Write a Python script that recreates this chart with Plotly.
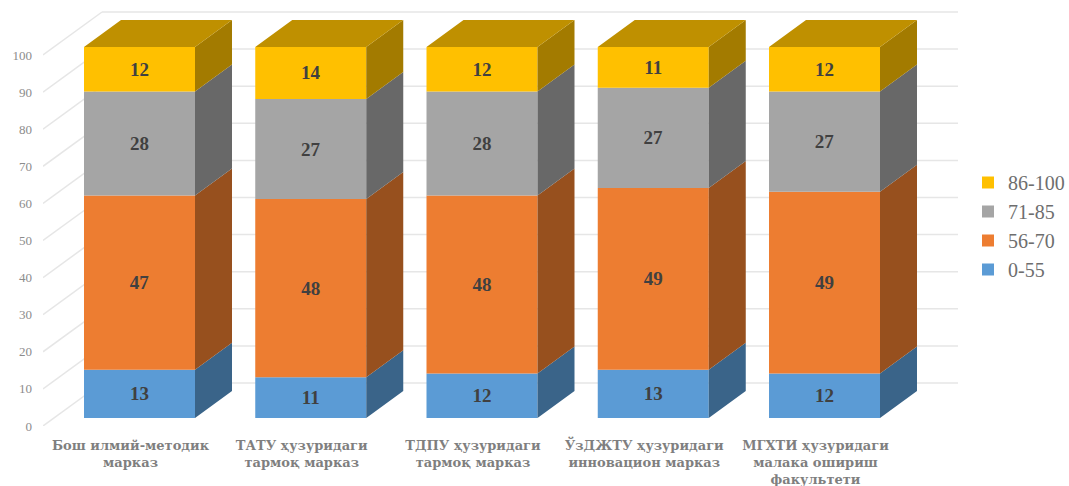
import plotly.graph_objects as go

categories = [
    "Бош илмий-методик<br>марказ",
    "ТАТУ ҳузуридаги<br>тармоқ марказ",
    "ТДПУ ҳузуридаги<br>тармоқ марказ",
    "ЎзДЖТУ ҳузуридаги<br>инновацион марказ",
    "МГХТИ ҳузуридаги<br>малака ошириш<br>факультети",
]
series_names = ["0-55", "56-70", "71-85", "86-100"]
v_0_55 = [13, 11, 12, 13, 12]
v_56_70 = [47, 48, 48, 49, 49]
v_71_85 = [28, 27, 28, 27, 27]
v_86_100 = [12, 14, 12, 11, 12]
y_ticks = [0, 10, 20, 30, 40, 50, 60, 70, 80, 90, 100]

series_values = [v_0_55, v_56_70, v_71_85, v_86_100]
front_colors = ["#5B9BD5", "#ED7D31", "#A5A5A5", "#FFC000"]
side_colors = ["#3A6489", "#97501E", "#686868", "#A37B00"]
top_color = "#BF9000"

W, H = 1069, 486
PX_L, PX_R, PX_T, PX_B = 43, 958, 10, 426
PITCH = 171.25
UNIT = 3.71
CAT0 = 130.5
x_range = [(PX_L - CAT0) / PITCH, (PX_R - CAT0) / PITCH]
y_range = [0, (PX_B - PX_T) / UNIT]

def dx(px):
    return px / PITCH

def dy(px):
    return px / UNIT

BAR_W = dx(111)
BAR_SX, BAR_SY = dx(9), dy(8)
DEPTH_X, DEPTH_Y = dx(37), dy(27)
WALL_X, WALL_Y = dx(59), dy(43)
GRID = "#E6E6E6"

fig = go.Figure()
xs = list(range(len(categories)))

shapes = []
for v in y_ticks:
    shapes.append(dict(type="line", layer="below", xref="x", yref="y",
                       x0=x_range[0] + WALL_X, x1=x_range[1],
                       y0=v + WALL_Y, y1=v + WALL_Y,
                       line=dict(color=GRID, width=1.5)))
    shapes.append(dict(type="line", layer="below", xref="x", yref="y",
                       x0=x_range[0], x1=x_range[0] + WALL_X,
                       y0=v, y1=v + WALL_Y,
                       line=dict(color=GRID, width=1.5)))

cum = [0] * len(categories)
for name, vals, fc, sc in zip(series_names, series_values, front_colors, side_colors):
    base = [c + BAR_SY for c in cum]
    fig.add_trace(go.Bar(
        x=xs, y=vals, base=base, width=BAR_W, name=name,
        offset=BAR_SX - BAR_W / 2,
        marker=dict(color=fc, line=dict(width=0)),
        text=[str(v) for v in vals], textposition="inside", textangle=0,
        insidetextanchor="middle", constraintext="none",
        textfont=dict(family="Liberation Serif", size=19, color="#404040", weight="bold"),
        hoverinfo="skip",
    ))
    px_, py_ = [], []
    for i, v in enumerate(vals):
        xr = i + BAR_SX + BAR_W / 2
        b, t = base[i], base[i] + v
        px_ += [xr, xr + DEPTH_X, xr + DEPTH_X, xr, xr, None]
        py_ += [b, b + DEPTH_Y, t + DEPTH_Y, t, b, None]
    fig.add_trace(go.Scatter(x=px_, y=py_, mode="lines", fill="toself", fillcolor=sc,
                             line=dict(width=0, color=sc), showlegend=False,
                             hoverinfo="skip"))
    cum = [c + v for c, v in zip(cum, vals)]

tx, ty = [], []
for i, c in enumerate(cum):
    xl = i + BAR_SX - BAR_W / 2
    xr = xl + BAR_W
    t = c + BAR_SY
    tx += [xl, xr, xr + DEPTH_X, xl + DEPTH_X, xl, None]
    ty += [t, t, t + DEPTH_Y, t + DEPTH_Y, t, None]
fig.add_trace(go.Scatter(x=tx, y=ty, mode="lines", fill="toself", fillcolor=top_color,
                         line=dict(width=0, color=top_color), showlegend=False,
                         hoverinfo="skip"))

LEG_L, LEG_T = 968, 163
fig.update_layout(
    width=W, height=H, autosize=False,
    margin=dict(l=PX_L, r=W - PX_R, t=PX_T, b=H - PX_B, autoexpand=False),
    paper_bgcolor="white", plot_bgcolor="white",
    barmode="overlay", shapes=shapes,
    font=dict(family="Liberation Serif"),
    legend=dict(x=(LEG_L - PX_L) / (PX_R - PX_L), y=(PX_B - LEG_T) / (PX_B - PX_T),
                xanchor="left", yanchor="top",
                traceorder="reversed",
                font=dict(family="Liberation Serif", size=20, color="#6E6E6E"),
                bgcolor="rgba(0,0,0,0)", borderwidth=0),
    xaxis=dict(range=x_range, tickmode="array", tickvals=xs, ticktext=["<b>%s</b>" % c for c in categories],
               showgrid=False, zeroline=False, showline=False, ticks="", tickangle=0,
               ticklabelstandoff=10,
               tickfont=dict(family="DejaVu Serif", size=13, color="#7F7F7F")),
    yaxis=dict(range=y_range, tickmode="array", tickvals=y_ticks, ticktext=[str(v) for v in y_ticks],
               showgrid=False, zeroline=False, showline=False, ticks="",
               ticklabelstandoff=10,
               tickfont=dict(family="Liberation Serif", size=13, color="#8C8C8C")),
)

fig.write_html("out.html", config={"displayModeBar": False},
               post_script="document.body.style.margin='0';")
